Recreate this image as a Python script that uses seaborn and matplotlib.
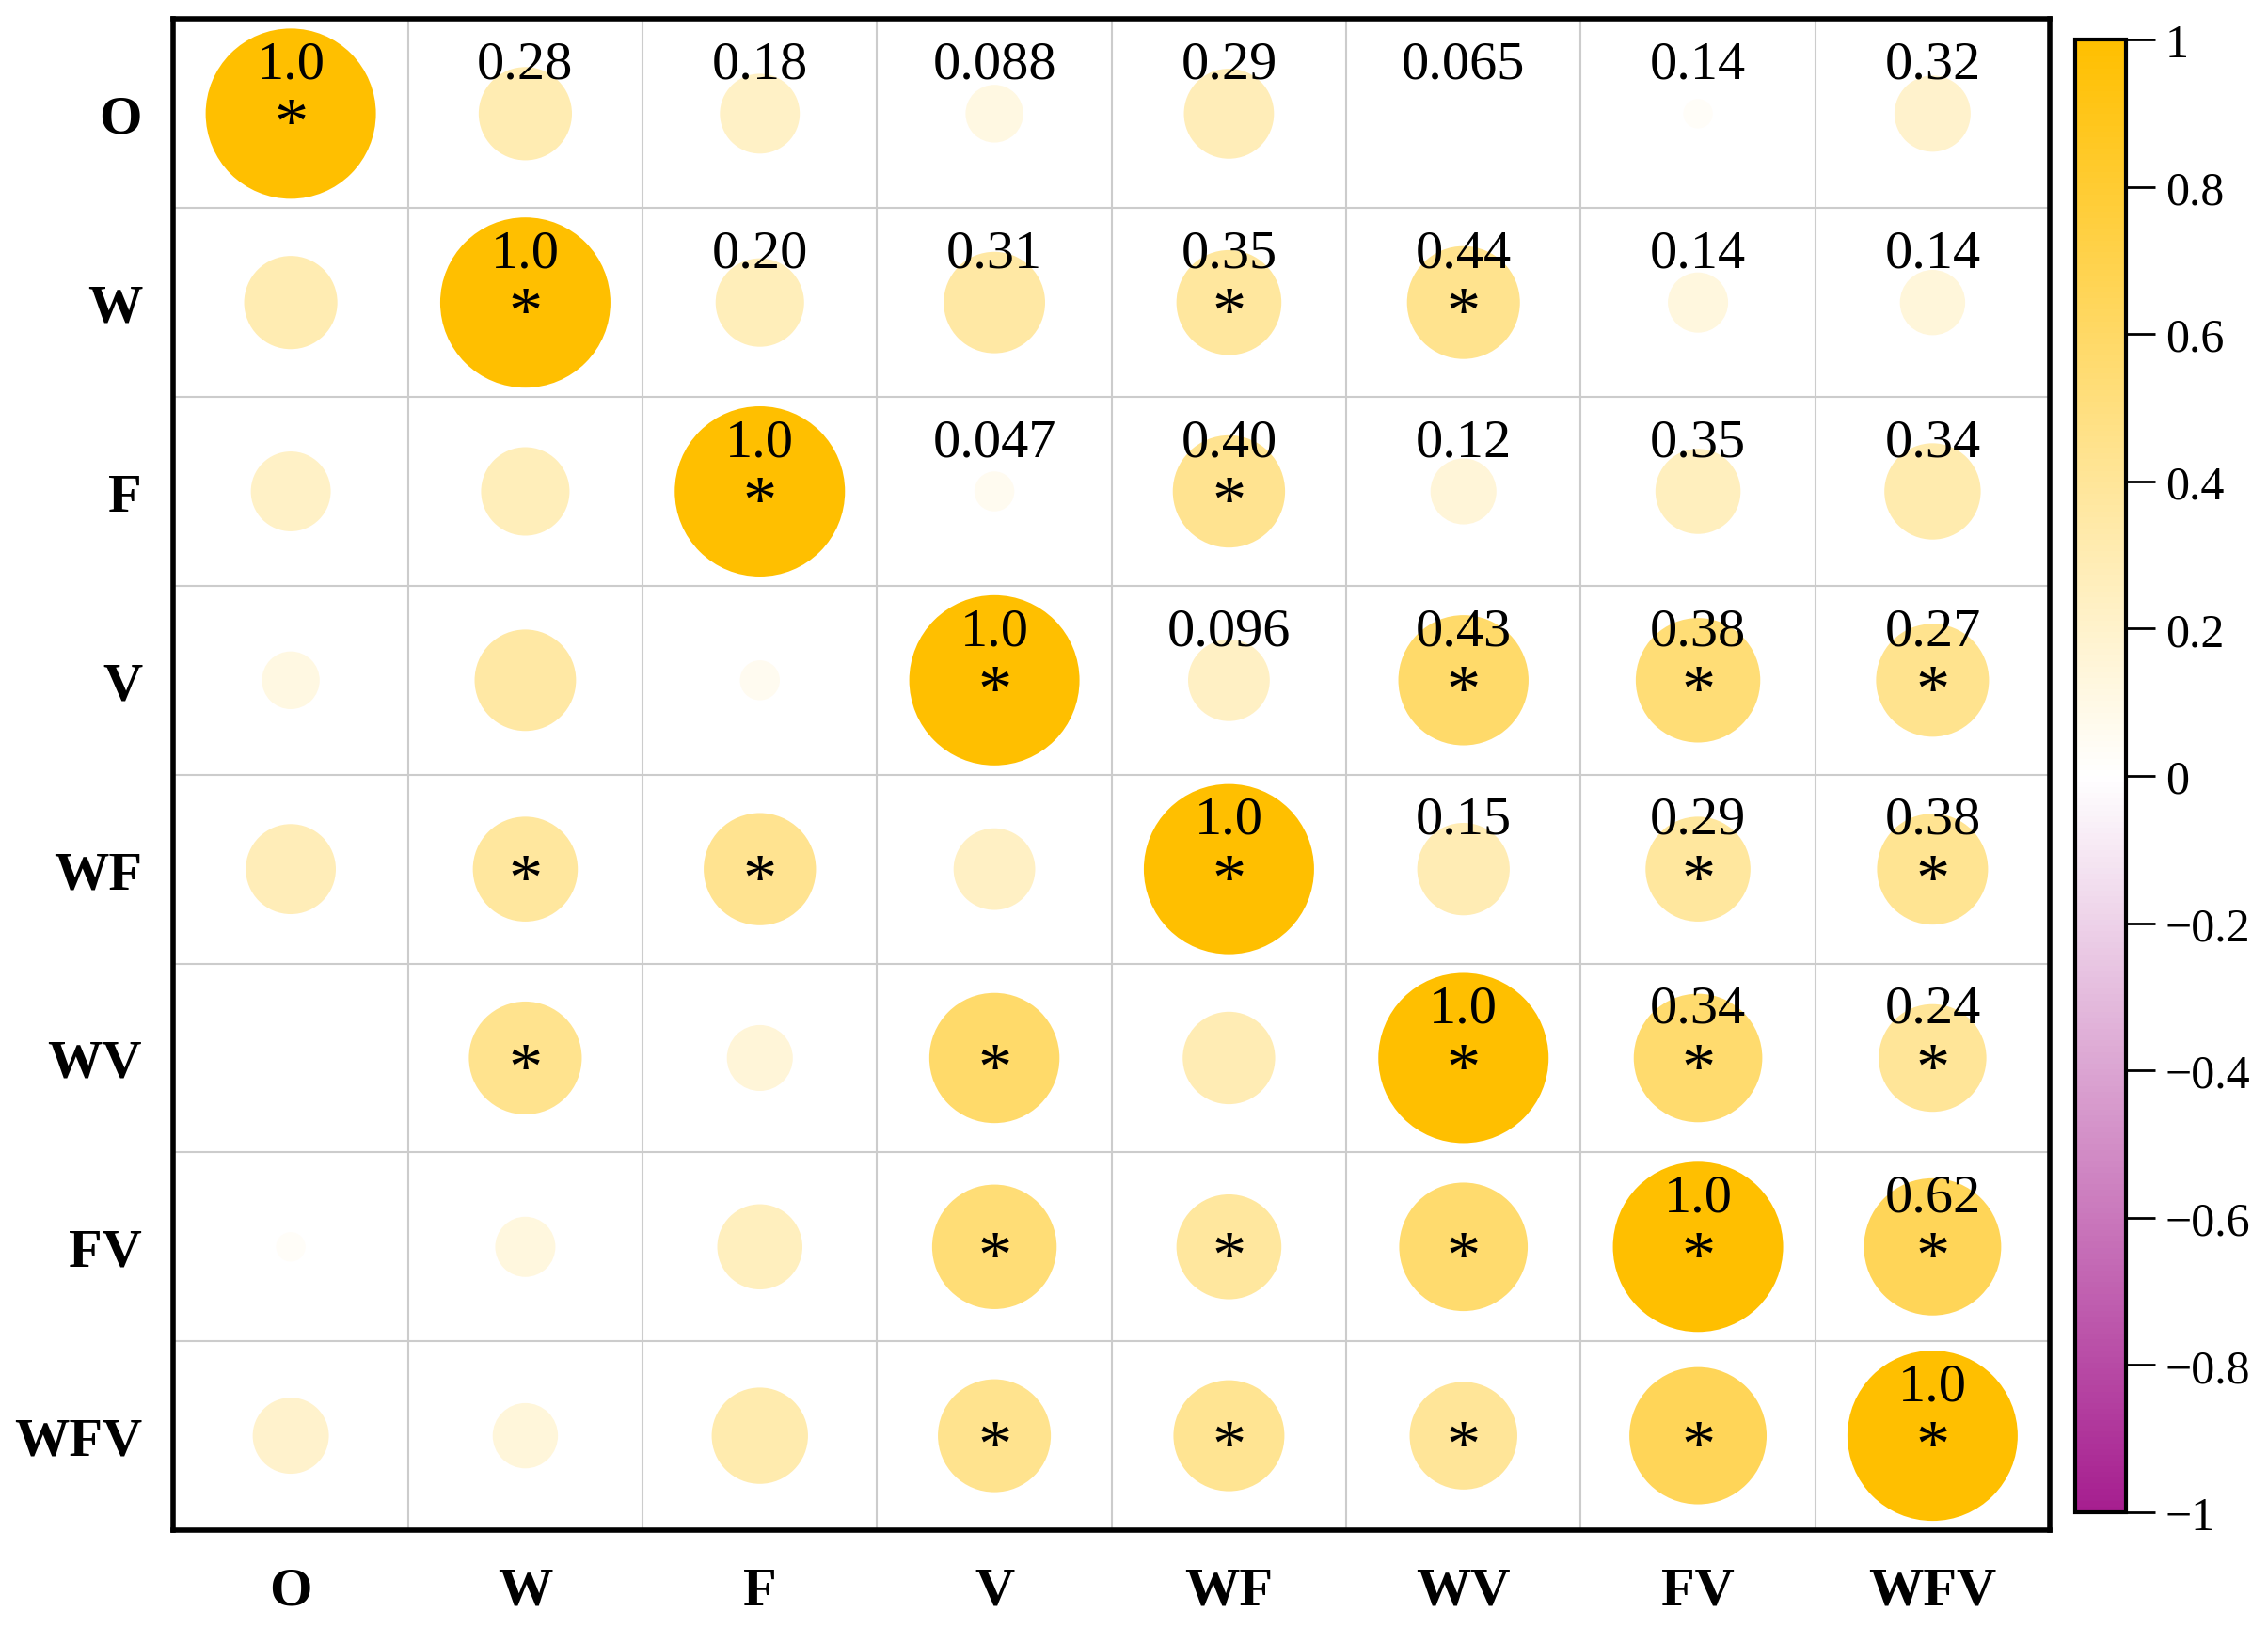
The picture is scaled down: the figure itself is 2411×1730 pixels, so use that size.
import matplotlib
matplotlib.use("Agg")
import matplotlib.pyplot as plt
from matplotlib.colors import LinearSegmentedColormap, Normalize
import seaborn as sns
import numpy as np
import pandas as pd

names = ["O", "W", "F", "V", "WF", "WV", "FV", "WFV"]

circle_r = [
    [1.00, 0.30, 0.22, 0.115, 0.28, 0.00, 0.03, 0.20],
    [0.30, 1.00, 0.27, 0.355, 0.38, 0.44, 0.125, 0.147],
    [0.22, 0.27, 1.00, 0.055, 0.435, 0.15, 0.25, 0.32],
    [0.115, 0.355, 0.055, 1.00, 0.23, 0.585, 0.535, 0.44],
    [0.28, 0.38, 0.435, 0.23, 1.00, 0.295, 0.38, 0.425],
    [0.00, 0.44, 0.15, 0.585, 0.295, 1.00, 0.57, 0.40],
    [0.03, 0.125, 0.25, 0.535, 0.38, 0.57, 1.00, 0.65],
    [0.20, 0.147, 0.32, 0.44, 0.425, 0.40, 0.65, 1.00],
]

# numbers printed in the upper triangle (row by row, from the diagonal)
upper_labels = [
    ["1.0", "0.28", "0.18", "0.088", "0.29", "0.065", "0.14", "0.32"],
    ["1.0", "0.20", "0.31", "0.35", "0.44", "0.14", "0.14"],
    ["1.0", "0.047", "0.40", "0.12", "0.35", "0.34"],
    ["1.0", "0.096", "0.43", "0.38", "0.27"],
    ["1.0", "0.15", "0.29", "0.38"],
    ["1.0", "0.34", "0.24"],
    ["1.0", "0.62"],
    ["1.0"],
]

# significant pairs (marked with *)
sig_pairs = [("W", "WF"), ("W", "WV"), ("F", "WF"), ("V", "WV"), ("V", "FV"),
             ("V", "WFV"), ("WF", "FV"), ("WF", "WFV"), ("WV", "FV"),
             ("WV", "WFV"), ("FV", "WFV")]

n = len(names)
sig = np.eye(n, dtype=bool)
for a, b in sig_pairs:
    i, j = names.index(a), names.index(b)
    sig[i, j] = sig[j, i] = True

rows = []
for i in range(n):
    for j in range(n):
        rows.append({"row": i, "col": j, "r": circle_r[i][j], "size": abs(circle_r[i][j])})
df = pd.DataFrame(rows)

cmap = LinearSegmentedColormap.from_list("pk_or", ["#A61E8F", "#FFFFFF", "#FFBF00"])

sns.set_theme(style="white")
plt.rcParams["font.family"] = ["Liberation Serif", "DejaVu Serif"]
plt.rcParams["axes.unicode_minus"] = True
plt.rcParams["text.color"] = "black"
plt.rcParams["xtick.color"] = "black"
plt.rcParams["ytick.color"] = "black"

fig = plt.figure(figsize=(24.11, 17.31), dpi=100)
ax = fig.add_axes([0.0765, 0.0595, 0.8273, 0.9281])

sns.scatterplot(data=df, x="col", y="row", hue="r", size="size",
                palette=cmap, hue_norm=(-1, 1),
                sizes=(0, 16980), size_norm=(0, 1),
                linewidth=0, legend=False, ax=ax, zorder=2)

for i in range(n):
    for k, lab in enumerate(upper_labels[i]):
        j = i + k
        ax.text(j, i - 0.26, lab, ha="center", va="center", fontsize=42,
                color="black", zorder=4)
for i in range(n):
    for j in range(n):
        if sig[i, j]:
            ax.text(j, i + 0.07, "*", ha="center", va="center", fontsize=52,
                    color="black", zorder=4)

ax.set_xlim(-0.5, n - 0.5)
ax.set_ylim(n - 0.5, -0.5)
ax.set_xticks(range(n))
ax.set_yticks(range(n))
ax.set_xticklabels(names, fontsize=42, fontweight="bold")
ax.set_yticklabels(names, fontsize=42, fontweight="bold")
ax.set_xticks(np.arange(-0.5, n), minor=True)
ax.set_yticks(np.arange(-0.5, n), minor=True)
ax.grid(which="minor", color="#cccccc", linewidth=1.5)
ax.grid(which="major", visible=False)
ax.set_axisbelow(True)
ax.tick_params(which="both", length=0, labelcolor="black")
ax.tick_params(axis="x", pad=28)
ax.tick_params(axis="y", pad=24)
ax.set_xlabel("")
ax.set_ylabel("")
for sp in ax.spines.values():
    sp.set_visible(True)
    sp.set_linewidth(4)
    sp.set_color("black")

cax = fig.add_axes([0.915, 0.0705, 0.0224, 0.9047])
sm = plt.cm.ScalarMappable(norm=Normalize(-1, 1), cmap=cmap)
cb = fig.colorbar(sm, cax=cax, ticks=np.arange(-1, 1.01, 0.2))
cb.ax.set_yticklabels(["\u22121", "\u22120.8", "\u22120.6", "\u22120.4", "\u22120.2",
                       "0", "0.2", "0.4", "0.6", "0.8", "1"])
cb.ax.tick_params(labelsize=36, length=22, width=2, pad=8, color="black",
                  labelcolor="black")
cb.outline.set_linewidth(3)
cb.outline.set_edgecolor("black")

fig.savefig("out.png", dpi=100)
